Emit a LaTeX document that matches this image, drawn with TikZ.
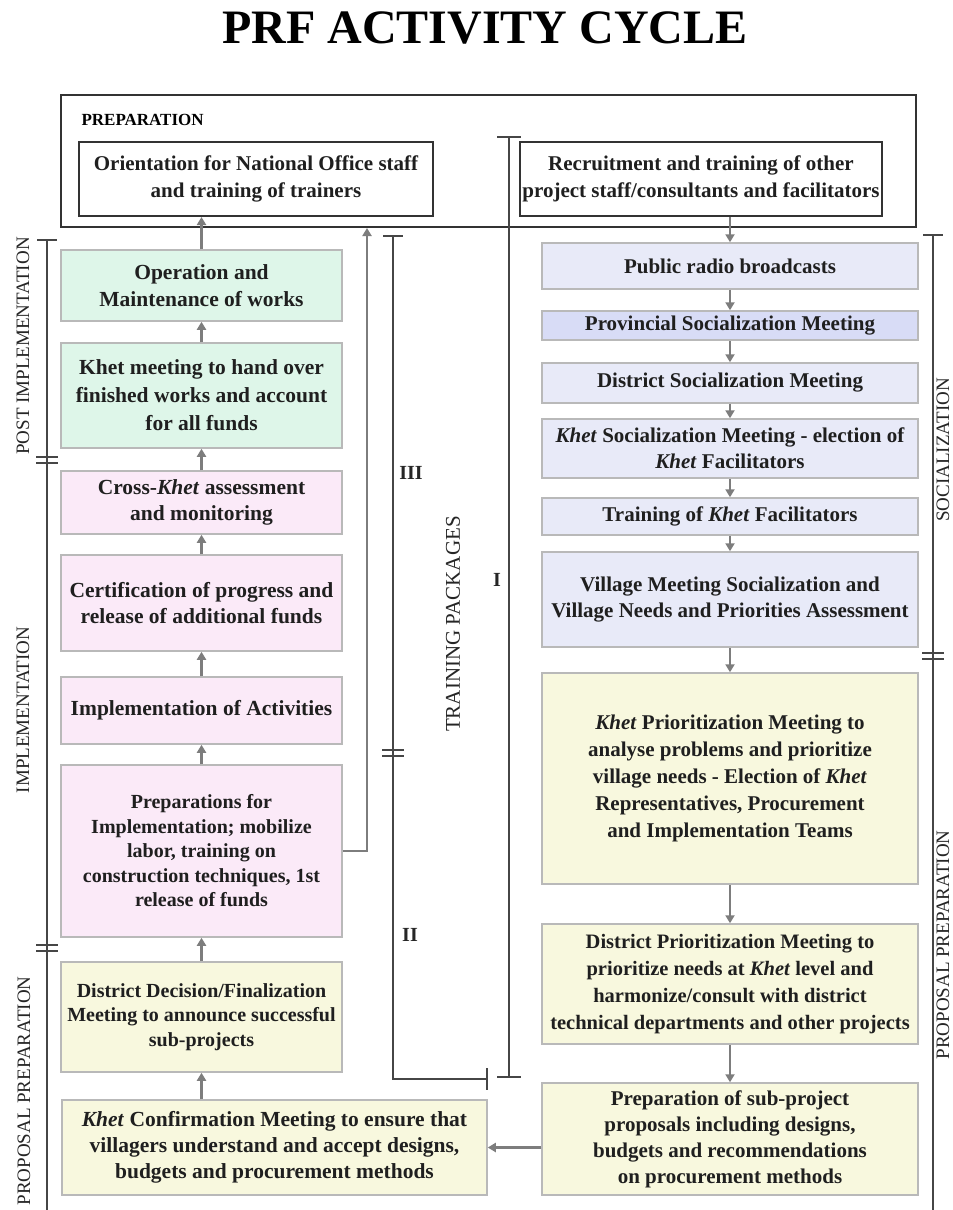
\documentclass[tikz,border=0pt]{standalone}
\usepackage{fontspec}
\setmainfont{Liberation Serif}
\usetikzlibrary{arrows.meta,positioning,calc}

\definecolor{omgreen}{RGB}{222,246,233}
\definecolor{impink}{RGB}{251,234,248}
\definecolor{solilac}{RGB}{232,234,248}
\definecolor{solilacdark}{RGB}{216,220,246}
\definecolor{ppyellow}{RGB}{248,248,222}
\definecolor{boxline}{RGB}{185,185,185}
\definecolor{flowgray}{RGB}{125,125,125}
\definecolor{barline}{RGB}{70,70,70}

\newcommand{\khet}{\textit{Khet}}

\tikzset{
  stage/.style={draw=boxline, line width=1.5pt, align=center, inner sep=0pt,
    text=black!88, font=\bfseries\fontsize{21.5}{26}\selectfont},
  leftbox/.style={stage, minimum width=281pt},
  rightbox/.style={stage, minimum width=376pt, font=\bfseries\fontsize{21}{26}\selectfont},
  prepbox/.style={draw=black!80, line width=2pt, align=center, inner sep=0pt,
    text=black!88, font=\bfseries\fontsize{21}{27}\selectfont},
  flow/.style={draw=flowgray, line width=2.6pt, -{Triangle[length=8pt,width=9pt]}},
  bar/.style={draw=barline, line width=2.4pt},
  phase/.style={rotate=90, text=black!85, font=\fontsize{19}{19}\selectfont},
  pack/.style={text=black!85, font=\bfseries\fontsize{20}{20}\selectfont},
}

\begin{document}
\begin{tikzpicture}[x=1pt,y=-1pt]
  \path[fill=white] (0,0) rectangle (953,1210);
  \useasboundingbox (0,0) rectangle (953,1210);

  % title
  \node[anchor=base, font=\bfseries\fontsize{48}{48}\selectfont] (title) at (485,43) {PRF ACTIVITY CYCLE};

  % preparation
  \node[prepbox, minimum width=855pt, minimum height=132pt] (prep) at (488.5,161) {};
  \node[anchor=base west, font=\bfseries\fontsize{17}{17}\selectfont] (preplab) at (78,125) {PREPARATION};
  \node[prepbox, minimum width=354pt, minimum height=74pt] (orient) at (256,179)
    {Orientation for National Office staff\\and training of trainers};
  \node[prepbox, minimum width=362pt, minimum height=74pt] (recruit) at (701,179)
    {Recruitment and training of other\\project staff/consultants and facilitators};

  % left column
  \node[leftbox, fill=omgreen, minimum height=71pt, font=\bfseries\fontsize{21.5}{27}\selectfont] (om) at (201.5,285.5)
    {Operation and\\Maintenance of works};
  \node[leftbox, fill=omgreen, minimum height=105pt, font=\bfseries\fontsize{21.5}{28}\selectfont] (khand) at (201.5,395.5)
    {Khet meeting to hand over\\finished works and account\\for all funds};
  \node[leftbox, fill=impink, minimum height=63pt] (cross) at (201.5,502.5)
    {Cross-\khet{} assessment\\and monitoring};
  \node[leftbox, fill=impink, minimum height=96pt] (cert) at (201.5,603)
    {Certification of progress and\\release of additional funds};
  \node[leftbox, fill=impink, minimum height=67pt] (impl) at (201.5,710.5)
    {Implementation of Activities};
  \node[leftbox, fill=impink, minimum height=172pt, font=\bfseries\fontsize{20}{24.5}\selectfont] (pimpl) at (201.5,851)
    {Preparations for\\Implementation; mobilize\\labor, training on\\construction techniques, 1st\\release of funds};
  \node[leftbox, fill=ppyellow, minimum height=110pt, font=\bfseries\fontsize{20}{24.5}\selectfont] (ddec) at (201.5,1017)
    {District Decision/Finalization\\Meeting to announce successful\\sub-projects};
  \node[stage, fill=ppyellow, minimum width=425pt, minimum height=95pt] (kconf) at (274.5,1147.5)
    {\khet{} Confirmation Meeting to ensure that\\villagers understand and accept designs,\\budgets and procurement methods};

  % right column
  \node[rightbox, fill=solilac, minimum height=46pt] (radio) at (730,266) {Public radio broadcasts};
  \node[rightbox, fill=solilacdark, minimum height=29pt] (prov) at (730,325.5) {Provincial Socialization Meeting};
  \node[rightbox, fill=solilac, minimum height=40pt] (dsoc) at (730,383) {District Socialization Meeting};
  \node[rightbox, fill=solilac, minimum height=59pt] (ksoc) at (730,448.5)
    {\khet{} Socialization Meeting - election of\\\khet{} Facilitators};
  \node[rightbox, fill=solilac, minimum height=37pt] (tkf) at (730,516.5) {Training of \khet{} Facilitators};
  \node[rightbox, fill=solilac, minimum height=95pt] (vill) at (730,599.5)
    {Village Meeting Socialization and\\Village Needs and Priorities Assessment};
  \node[rightbox, fill=ppyellow, minimum height=211pt, font=\bfseries\fontsize{21}{26.8}\selectfont] (kprio) at (730,778.5)
    {\khet{} Prioritization Meeting to\\analyse problems and prioritize\\village needs - Election of \khet\\Representatives, Procurement\\and Implementation Teams};
  \node[rightbox, fill=ppyellow, minimum height=120pt, font=\bfseries\fontsize{20.5}{27}\selectfont] (dprio) at (730,984)
    {District Prioritization Meeting to\\prioritize needs at \khet{} level and\\harmonize/consult with district\\technical departments and other projects};
  \node[rightbox, fill=ppyellow, minimum height=112pt] (psub) at (730,1139)
    {Preparation of sub-project\\proposals including designs,\\budgets and recommendations\\on procurement methods};

  % flow arrows
  \draw[flow] (om.north) -- (om.north |- orient.south);
  \foreach \a/\b in {khand/om, cross/khand, cert/cross, impl/cert, pimpl/impl, ddec/pimpl}
    \draw[flow] (\a.north) -- (\b.south);
  \draw[flow] (kconf.north -| ddec.south) -- (ddec.south);
  \draw[flow] (recruit.south -| radio.north) -- (radio.north);
  \foreach \a/\b in {radio/prov, prov/dsoc, dsoc/ksoc, ksoc/tkf, tkf/vill, vill/kprio, kprio/dprio, dprio/psub}
    \draw[flow] (\a.south) -- (\b.north);
  \draw[flow] (psub.west |- kconf.east) -- (kconf.east);
  \coordinate (backup) at (367,851);
  \draw[flow] (pimpl.east) -- (backup) -- (backup |- prep.south);

  % left phases
  \draw[bar] (37,240) -- (57,240);
  \draw[bar] (47,240) -- (47,1210);
  \draw[bar] (36,457) -- (58,457);
  \draw[bar] (36,463) -- (58,463);
  \draw[bar] (36,945) -- (58,945);
  \draw[bar] (36,951) -- (58,951);
  \node[phase] (postlab) at (23,346) {POST IMPLEMENTATION};
  \node[phase] (impllab) at (23,710) {IMPLEMENTATION};
  \node[phase] (proplab) at (24,1091) {PROPOSAL PREPARATION};

  % right phases
  \draw[bar] (923,235) -- (943,235);
  \draw[bar] (933,235) -- (933,1210);
  \draw[bar] (922,653) -- (944,653);
  \draw[bar] (922,659) -- (944,659);
  \node[phase] (soclab) at (943,450) {SOCIALIZATION};
  \node[phase] (proprlab) at (943,945) {PROPOSAL PREPARATION};

  % training packages
  \draw[bar] (383,236) -- (403,236);
  \draw[bar] (393,236) -- (393,1079) -- (487,1079);
  \draw[bar] (487,1068) -- (487,1090);
  \draw[bar] (382,750) -- (404,750);
  \draw[bar] (382,756) -- (404,756);
  \draw[bar] (497,137) -- (521,137);
  \draw[bar] (509,137) -- (509,1077);
  \draw[bar] (497,1077) -- (521,1077);
  \node[pack] (pthree) at (411,473) {III};
  \node[pack] (ptwo) at (410,935) {II};
  \node[pack] (pone) at (497,580) {I};
  \node[phase, font=\fontsize{21}{21}\selectfont] (packlab) at (453,624) {TRAINING PACKAGES};
\end{tikzpicture}
\end{document}
